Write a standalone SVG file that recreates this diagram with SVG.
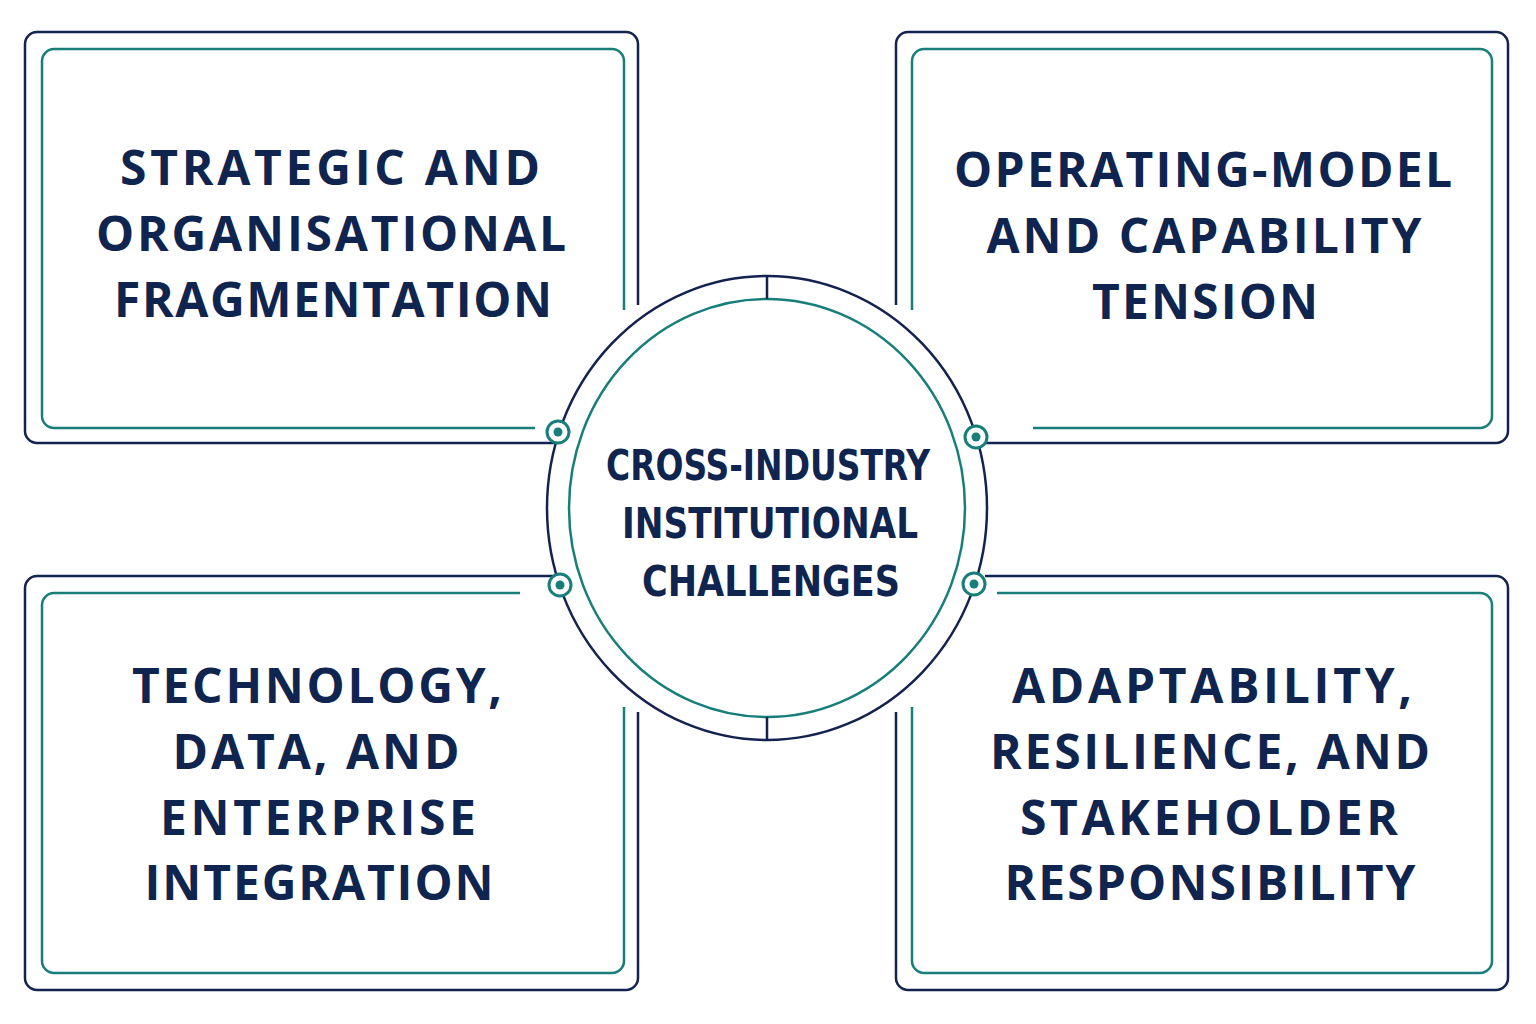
<svg xmlns="http://www.w3.org/2000/svg" width="1536" height="1024" viewBox="0 0 1536 1024">
<style>
.nv{fill:none;stroke:#13234f;stroke-width:2.5}
.tl{fill:none;stroke:#177e7a;stroke-width:2.5}
.t{font-family:"Open Sans","DejaVu Sans",sans-serif;font-weight:700;font-size:48px;fill:#0f2550;text-anchor:middle}
.c{font-family:"DejaVu Sans Condensed","Liberation Sans Narrow",sans-serif;font-weight:700;font-size:42px;fill:#0f2550;text-anchor:middle}
.dot{fill:#fff;stroke:#177e7a;stroke-width:3}
.dc{fill:#177e7a}
</style>
<rect width="1536" height="1024" fill="#fff"/>
<g id="box-tl">
<path class="nv" d="M638,305 V44 a12,12 0 0 0 -12,-12 H37 a12,12 0 0 0 -12,12 V431 a12,12 0 0 0 12,12 H555"/>
<path class="tl" d="M624,310 V61 a12,12 0 0 0 -12,-12 H54 a12,12 0 0 0 -12,12 V416 a12,12 0 0 0 12,12 H535"/>
<text class="t" x="330" y="185" textLength="420" lengthAdjust="spacing">STRATEGIC AND</text>
<text class="t" x="331" y="251" textLength="470" lengthAdjust="spacing">ORGANISATIONAL</text>
<text class="t" x="333" y="317" textLength="438" lengthAdjust="spacing">FRAGMENTATION</text>
</g>
<g id="box-tr">
<path class="nv" d="M896,305 V44 a12,12 0 0 1 12,-12 H1496 a12,12 0 0 1 12,12 V431 a12,12 0 0 1 -12,12 H985"/>
<path class="tl" d="M912,310 V61 a12,12 0 0 1 12,-12 H1480 a12,12 0 0 1 12,12 V416 a12,12 0 0 1 -12,12 H1033"/>
<text class="t" x="1203" y="187" textLength="498" lengthAdjust="spacing">OPERATING-MODEL</text>
<text class="t" x="1204" y="253" textLength="435" lengthAdjust="spacing">AND CAPABILITY</text>
<text class="t" x="1205" y="319" textLength="226" lengthAdjust="spacing">TENSION</text>
</g>
<g id="box-bl">
<path class="nv" d="M553,576 H37 a12,12 0 0 0 -12,12 V978 a12,12 0 0 0 12,12 H626 a12,12 0 0 0 12,-12 V712"/>
<path class="tl" d="M520,593 H54 a12,12 0 0 0 -12,12 V961 a12,12 0 0 0 12,12 H612 a12,12 0 0 0 12,-12 V707"/>
<text class="t" x="317" y="703" textLength="370" lengthAdjust="spacing">TECHNOLOGY,</text>
<text class="t" x="316" y="769" textLength="287" lengthAdjust="spacing">DATA, AND</text>
<text class="t" x="318" y="835" textLength="316" lengthAdjust="spacing">ENTERPRISE</text>
<text class="t" x="319" y="900" textLength="349" lengthAdjust="spacing">INTEGRATION</text>
</g>
<g id="box-br">
<path class="nv" d="M985,576 H1496 a12,12 0 0 1 12,12 V978 a12,12 0 0 1 -12,12 H908 a12,12 0 0 1 -12,-12 V712"/>
<path class="tl" d="M997,593 H1480 a12,12 0 0 1 12,12 V961 a12,12 0 0 1 -12,12 H924 a12,12 0 0 1 -12,-12 V707"/>
<text class="t" x="1212" y="703" textLength="400" lengthAdjust="spacing">ADAPTABILITY,</text>
<text class="t" x="1210" y="769" textLength="440" lengthAdjust="spacing">RESILIENCE, AND</text>
<text class="t" x="1209" y="835" textLength="378" lengthAdjust="spacing">STAKEHOLDER</text>
<text class="t" x="1210" y="900" textLength="411" lengthAdjust="spacing">RESPONSIBILITY</text>
</g>
<g id="center">
<ellipse class="nv" cx="767" cy="508" rx="220" ry="232"/>
<ellipse class="tl" cx="767" cy="508" rx="198" ry="209" stroke-width="4"/>
<line class="nv" x1="767" y1="276" x2="767" y2="299"/>
<line class="nv" x1="767" y1="717" x2="767" y2="740"/>
<text class="c" x="768" y="480" textLength="324" lengthAdjust="spacingAndGlyphs">CROSS-INDUSTRY</text>
<text class="c" x="770" y="538" textLength="296" lengthAdjust="spacingAndGlyphs">INSTITUTIONAL</text>
<text class="c" x="771" y="596" textLength="258" lengthAdjust="spacingAndGlyphs">CHALLENGES</text>
</g>
<g id="connectors">
<circle class="dot" cx="558" cy="432" r="11"/><circle class="dc" cx="558" cy="432" r="4.5"/>
<circle class="dot" cx="560" cy="585" r="11"/><circle class="dc" cx="560" cy="585" r="4.5"/>
<circle class="dot" cx="976" cy="437" r="11"/><circle class="dc" cx="976" cy="437" r="4.5"/>
<circle class="dot" cx="974" cy="584" r="11"/><circle class="dc" cx="974" cy="584" r="4.5"/>
</g>
</svg>
